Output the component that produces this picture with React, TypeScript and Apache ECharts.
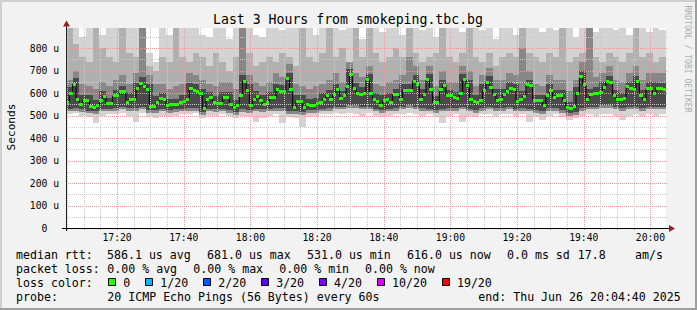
import React, { useEffect, useRef } from "react";
import * as echarts from "echarts";

const FONT = "'DejaVu Sans Mono', monospace";
// minutes after 17:00 at the left edge of the plot (17:04:40)
const T0 = 4 + 40 / 60;
const SPAN = 180;
const Y_MAX = 888.9;

// median RTT per minute (microseconds)
const medians = [
  557, 599, 639, 573, 547, 566, 565, 539, 537, 545,
  566, 585, 554, 552, 587, 591, 606, 606, 560, 572,
  572, 618, 643, 631, 616, 542, 542, 557, 576, 570,
  545, 550, 550, 550, 558, 563, 569, 618, 613, 608,
  597, 532, 570, 578, 560, 552, 552, 580, 580, 547,
  535, 546, 590, 653, 613, 546, 570, 584, 565, 551,
  560, 578, 578, 615, 607, 607, 664, 616, 535, 563,
  563, 536, 550, 545, 545, 554, 560, 573, 588, 573,
  592, 615, 575, 587, 627,
  681, 621, 599, 594, 599, 658, 596, 573, 563, 545,
  566, 573, 560, 592, 592, 573, 613, 613, 610, 653,
  640, 573, 594, 658, 615, 557, 557, 615, 634, 588,
  588, 580, 577, 596, 658, 634, 573, 562, 560, 565,
  613, 647, 624, 594, 566, 573, 594, 606, 622, 615,
  562, 573, 584, 636, 633, 566, 566, 566, 545, 588,
  612, 582, 591, 591, 566, 535, 531, 539, 599, 672,
  636, 573, 594, 597, 597, 604, 625, 651, 645, 591,
  573, 573, 577, 627, 622, 615, 649, 591, 570, 621,
  622, 596, 622, 618, 616,
];

// smoke, one column per 2 minutes (microseconds)
const smokeTop = [
  870, 900, 850, 900, 900, 860, 900, 900, 880, 900,
  900, 900, 780, 740, 900, 860, 870, 900, 900, 900,
  860, 850, 900, 900, 840, 900, 900, 900, 860, 850,
  900, 900, 880, 900, 900, 870, 900, 860, 900, 900,
  900, 880, 900, 900, 840, 900, 900, 870, 900, 900,
  860, 900, 900, 880, 900, 850, 900, 900, 900, 870,
  900, 900, 880, 900, 840, 900, 900, 860, 900, 900,
  900, 870, 900, 880, 900, 900, 850, 900, 900, 870,
  900, 900, 880, 900, 860, 900, 900, 870, 900, 880,
];
const smokeUpper = [
  900, 820, 760, 740, 900, 800, 760, 740, 900, 780,
  760, 900, 720, 700, 760, 740, 900, 760, 740, 780,
  760, 720, 780, 740, 700, 760, 900, 780, 720, 740,
  760, 740, 780, 760, 720, 900, 760, 740, 780, 900,
  760, 800, 740, 900, 760, 900, 780, 740, 760, 800,
  760, 900, 780, 740, 760, 780, 900, 760, 740, 780,
  900, 760, 740, 780, 720, 760, 780, 760, 900, 780,
  760, 740, 780, 760, 900, 740, 760, 780, 900, 760,
  740, 780, 760, 740, 780, 900, 760, 780, 740, 760,
];
const smokeMid = [
  660, 700, 640, 630, 620, 650, 630, 660, 680, 640,
  690, 890, 680, 640, 640, 620, 630, 640, 690, 680,
  660, 640, 630, 650, 650, 620, 890, 680, 650, 630,
  650, 690, 670, 730, 640, 630, 620, 630, 640, 660,
  690, 650, 740, 690, 670, 720, 640, 630, 650, 660,
  680, 760, 720, 660, 720, 630, 700, 650, 650, 720,
  700, 630, 680, 710, 660, 660, 690, 680, 800, 700,
  640, 630, 680, 660, 660, 610, 660, 740, 890, 670,
  690, 720, 660, 650, 690, 720, 660, 690, 690, 690,
];
const smokeCore = [
  625, 665, 590, 590, 570, 610, 580, 615, 630, 600,
  645, 670, 640, 585, 600, 575, 575, 590, 645, 640,
  620, 605, 585, 605, 605, 570, 680, 640, 610, 590,
  605, 640, 635, 690, 590, 590, 575, 580, 600, 615,
  640, 610, 705, 645, 625, 685, 600, 590, 600, 620,
  640, 640, 680, 620, 685, 585, 660, 615, 605, 685,
  660, 590, 640, 675, 620, 620, 650, 640, 610, 660,
  590, 590, 640, 615, 615, 560, 625, 700, 620, 625,
  650, 675, 615, 600, 650, 675, 615, 650, 650, 645,
];
const smokeBase = [
  530, 535, 528, 522, 518, 530, 530, 535, 540, 535,
  535, 540, 525, 525, 530, 525, 528, 530, 535, 535,
  515, 530, 528, 530, 525, 515, 528, 525, 530, 528,
  530, 535, 535, 520, 520, 515, 525, 525, 530, 535,
  540, 540, 545, 545, 540, 540, 530, 525, 530, 535,
  540, 545, 540, 535, 530, 525, 530, 535, 535, 540,
  530, 525, 535, 540, 535, 535, 540, 530, 535, 530,
  525, 520, 535, 535, 525, 510, 515, 535, 540, 540,
  545, 545, 540, 535, 540, 540, 535, 540, 540, 540,
];
const smokeLow = [
  518, 522, 515, 510, 505, 518, 518, 522, 528, 522,
  522, 528, 512, 512, 518, 512, 515, 518, 522, 522,
  503, 518, 515, 518, 512, 503, 515, 512, 518, 515,
  518, 522, 522, 508, 508, 503, 512, 512, 518, 522,
  528, 528, 532, 532, 528, 528, 518, 512, 518, 522,
  528, 532, 528, 522, 518, 512, 518, 522, 522, 528,
  518, 512, 522, 528, 522, 522, 528, 518, 522, 518,
  512, 508, 522, 522, 512, 498, 503, 522, 528, 528,
  532, 532, 528, 522, 528, 528, 522, 528, 528, 528,
];
const smokeBottom = [
  505, 510, 500, 495, 465, 500, 505, 505, 510, 500,
  470, 510, 495, 490, 500, 495, 500, 505, 505, 510,
  490, 500, 500, 505, 500, 490, 500, 495, 470, 490,
  500, 505, 468, 495, 490, 450, 495, 500, 505, 505,
  510, 505, 510, 505, 500, 510, 500, 495, 500, 505,
  505, 510, 505, 500, 505, 495, 465, 500, 505, 470,
  500, 495, 505, 505, 500, 505, 505, 500, 505, 470,
  495, 478, 500, 505, 495, 480, 490, 500, 505, 500,
  505, 505, 500, 480, 500, 505, 500, 505, 500, 505,
];

const yLabelValues = [0, 100, 200, 300, 400, 500, 600, 700, 800];
const yGridValues = [50, 100, 150, 200, 250, 300, 350, 400, 450, 500, 550, 600, 650, 700, 750, 800, 850];
const xGridValues = [
  5, 10, 15, 20, 25, 30, 35, 40, 45, 50, 55, 60, 65, 70, 75, 80, 85, 90,
  95, 100, 105, 110, 115, 120, 125, 130, 135, 140, 145, 150, 155, 160, 165, 170, 175, 180,
];
const xLabelValues = [20, 40, 60, 80, 100, 120, 140, 160, 180];

const titleText = "Last 3 Hours from smokeping.tbc.bg";
const watermarkText = "RRDTOOL / TOBI OETIKER";
const yAxisName = "Seconds";
const rttTexts = ["median rtt:", "586.1 us avg", "681.0 us max", "531.0 us min", "616.0 us now", "0.0 ms sd", "17.8", "am/s"];
const lossTexts = ["packet loss:", "0.00 % avg", "0.00 % max", "0.00 % min", "0.00 % now"];
const lossColorTitle = "loss color:";
const lossColorLabels = ["0", "1/20", "2/20", "3/20", "4/20", "10/20", "19/20"];
const lossColorValues = ["#26ff00", "#00b8ff", "#0059ff", "#5e00ff", "#7e00ff", "#dd00ff", "#ff0000"];
const probeTexts = ["probe:", "20 ICMP Echo Pings (56 Bytes) every 60s", "end: Thu Jun 26 20:04:40 2025"];

// layout (pixels)
const rttX = [16, 107, 207, 307, 407, 507, 577.7, 635];
const lossX = [16, 107.3, 193.3, 279.3, 365];
const probeX = [16, 107.3, 478.3];
const LEG_FS = 11.6;
const CHAR_W = 0.602 * LEG_FS;

function fmtTime(m: number) {
  const h = 17 + Math.floor(m / 60);
  const mm = m % 60;
  return `${h}:${mm < 10 ? "0" + mm : mm}`;
}

function legendText(text: string, x: number, y: number) {
  return {
    type: "text",
    x,
    y,
    silent: true,
    style: {
      text,
      fontFamily: FONT,
      fontSize: LEG_FS,
      fill: "#000",
      align: "left",
      verticalAlign: "middle",
      textAlign: "left",
      textVerticalAlign: "middle",
    },
  };
}

export default function App() {
  const ref = useRef<HTMLDivElement>(null);

  useEffect(() => {
    if (!ref.current) return;
    const chart = echarts.init(ref.current, null, { renderer: "svg" });

    const smokeData = smokeTop.map((t, j) => [
      T0 + 2 * j,
      smokeBottom[j],
      smokeLow[j],
      smokeBase[j],
      smokeCore[j],
      smokeMid[j],
      smokeUpper[j],
      t,
    ]);
    const medianData = medians.map((m, i) => [T0 + i, m]);
    const stepData = medianData.concat([[T0 + medians.length, medians[medians.length - 1]]]);

    const graphics: any[] = [];
    // frame
    graphics.push({ type: "rect", silent: true, shape: { x: 0, y: 0, width: 697, height: 2 }, style: { fill: "#cfcfcf" } });
    graphics.push({ type: "rect", silent: true, shape: { x: 0, y: 0, width: 2, height: 310 }, style: { fill: "#cfcfcf" } });
    graphics.push({ type: "rect", silent: true, shape: { x: 0, y: 308, width: 697, height: 2 }, style: { fill: "#9e9e9e" } });
    graphics.push({ type: "rect", silent: true, shape: { x: 695, y: 0, width: 2, height: 310 }, style: { fill: "#9e9e9e" } });
    // title
    graphics.push({
      type: "text", x: 348, y: 19.5, silent: true,
      style: { text: titleText, fontFamily: FONT, fontSize: 13.2, fill: "#000", align: "center", verticalAlign: "middle", textAlign: "center", textVerticalAlign: "middle" },
    });
    // watermark
    graphics.push({
      type: "text", x: 688, y: 59, rotation: -Math.PI / 2, silent: true,
      style: { text: watermarkText, fontFamily: FONT, fontSize: 8.1, fill: "#adadad", align: "center", verticalAlign: "middle", textAlign: "center", textVerticalAlign: "middle" },
    });
    // y axis name
    graphics.push({
      type: "text", x: 11, y: 127, rotation: Math.PI / 2, silent: true,
      style: { text: yAxisName, fontFamily: FONT, fontSize: 11.1, fill: "#000", align: "center", verticalAlign: "middle", textAlign: "center", textVerticalAlign: "middle" },
    });
    // axes lines and arrows
    graphics.push({ type: "line", silent: true, z: 50, shape: { x1: 62, y1: 228.5, x2: 669, y2: 228.5 }, style: { stroke: "#000", lineWidth: 1 } });
    graphics.push({ type: "line", silent: true, z: 50, shape: { x1: 66.5, y1: 231, x2: 66.5, y2: 26 }, style: { stroke: "#222", lineWidth: 1 } });
    graphics.push({ type: "polygon", silent: true, z: 50, shape: { points: [[669, 225], [669, 232], [675, 228.5]] }, style: { fill: "#962020" } });
    graphics.push({ type: "polygon", silent: true, z: 50, shape: { points: [[63, 26.5], [70, 26.5], [66.5, 20.5]] }, style: { fill: "#962020" } });
    // legend
    rttTexts.forEach((t, i) => graphics.push(legendText(t, rttX[i], 254.5)));
    lossTexts.forEach((t, i) => graphics.push(legendText(t, lossX[i], 268.5)));
    graphics.push(legendText(lossColorTitle, 16, 282.5));
    let bx = 108.3;
    lossColorLabels.forEach((lab, i) => {
      graphics.push({
        type: "rect", silent: true,
        shape: { x: Math.round(bx) + 0.5, y: 278.5, width: 7, height: 7 },
        style: { fill: lossColorValues[i], stroke: "#000", lineWidth: 1 },
      });
      graphics.push(legendText(lab, bx + 15, 282.5));
      bx = bx + 15 + lab.length * CHAR_W + 15;
    });
    probeTexts.forEach((t, i) => graphics.push(legendText(t, probeX[i], 296.5)));

    const option: any = {
      animation: false,
      backgroundColor: "#f2f2f2",
      grid: {
        left: 66, top: 28, width: 600, height: 200,
        show: true, backgroundColor: "#ffffff", borderWidth: 0,
      },
      xAxis: {
        type: "value",
        min: T0,
        max: T0 + SPAN,
        axisLine: { show: false },
        splitLine: { show: false },
        axisTick: { show: true, customValues: xGridValues, length: 2, lineStyle: { color: "#999" } },
        axisLabel: {
          customValues: xLabelValues,
          formatter: (v: number) => fmtTime(Math.round(v)),
          fontFamily: FONT, fontSize: 9.7, color: "#000", margin: 4.5,
        },
      },
      yAxis: {
        type: "value",
        min: 0,
        max: Y_MAX,
        axisLine: { show: false },
        axisTick: { show: false },
        splitLine: { show: false },
        axisLabel: {
          customValues: yLabelValues,
          formatter: (v: number) => (v === 0 ? "0\u00a0\u00a0" : `${v} u`),
          fontFamily: FONT, fontSize: 9.7, color: "#000", margin: 7,
        },
      },
      graphic: graphics,
      series: [
        {
          type: "custom",
          name: "smoke",
          silent: true,
          z: 2,
          data: smokeData,
          renderItem: (params: any, api: any) => {
            const xs = api.value(0);
            const cs = params.coordSys;
            const clipRect = { x: cs.x, y: cs.y, width: cs.width, height: cs.height };
            const mk = (lo: number, hi: number, fill: string) => {
              const p1 = api.coord([xs, hi]);
              const p2 = api.coord([xs + 2, lo]);
              const x1 = Math.round(p1[0]);
              const x2 = Math.round(p2[0]);
              const y1 = Math.round(p1[1]);
              const y2 = Math.round(p2[1]);
              const shape = echarts.graphic.clipRectByRect(
                { x: x1, y: y1, width: x2 - x1, height: y2 - y1 },
                clipRect
              );
              return shape ? { type: "rect", shape, style: { fill } } : null;
            };
            const bottom = api.value(1);
            const low = api.value(2);
            const base = api.value(3);
            const core = api.value(4);
            const mid = api.value(5);
            const upper = api.value(6);
            const top = api.value(7);
            const children = [
              mk(bottom, top, "#d3d3d3"),
              mk(low, upper, "#b0b0b0"),
              mk(low, mid, "#878787"),
              mk(base, core, "#4a4a4a"),
            ].filter(Boolean);
            return { type: "group", children };
          },
        },
        {
          type: "custom",
          name: "hgrid",
          silent: true,
          z: 3,
          data: yGridValues.map((v) => [T0, v]),
          renderItem: (params: any, api: any) => {
            const v = api.value(1);
            const cs = params.coordSys;
            const y = Math.round(api.coord([T0, v])[1]) + 0.5;
            return {
              type: "line",
              shape: { x1: cs.x, y1: y, x2: cs.x + cs.width + 2, y2: y },
              style: { stroke: v % 100 === 0 ? "#ee9a9a" : "#c9c9c9", lineWidth: 1, lineDash: [1, 1] },
            };
          },
        },
        {
          type: "custom",
          name: "vgrid",
          silent: true,
          z: 3,
          data: xGridValues.map((m) => [m, 0]),
          renderItem: (params: any, api: any) => {
            const m = api.value(0);
            const cs = params.coordSys;
            const x = Math.round(api.coord([m, 0])[0]) + 0.5;
            return {
              type: "line",
              shape: { x1: x, y1: cs.y, x2: x, y2: cs.y + cs.height },
              style: { stroke: m % 20 === 0 ? "#ee9a9a" : "#c9c9c9", lineWidth: 1, lineDash: [1, 1] },
            };
          },
        },
        {
          type: "line",
          name: "median",
          silent: true,
          z: 4,
          step: "end",
          symbol: "none",
          data: stepData,
          lineStyle: { color: "#000", width: 1 },
        },
        {
          type: "custom",
          name: "loss0",
          silent: true,
          z: 5,
          data: medianData,
          renderItem: (params: any, api: any) => {
            const x0 = api.value(0);
            const m = api.value(1);
            const p0 = api.coord([x0, m]);
            const p1 = api.coord([x0 + 1, m]);
            const xa = Math.round(p0[0]);
            const xb = Math.round(p1[0]);
            return {
              type: "rect",
              shape: { x: xa, y: Math.round(p0[1] - 1.5), width: xb - xa, height: 3 },
              style: { fill: "#26ff00" },
            };
          },
        },
      ],
    };

    chart.setOption(option);
    return () => chart.dispose();
  }, []);

  return (
    <div
      ref={ref}
      style={{ position: "absolute", left: 0, top: 0, width: 697, height: 310 }}
    />
  );
}
